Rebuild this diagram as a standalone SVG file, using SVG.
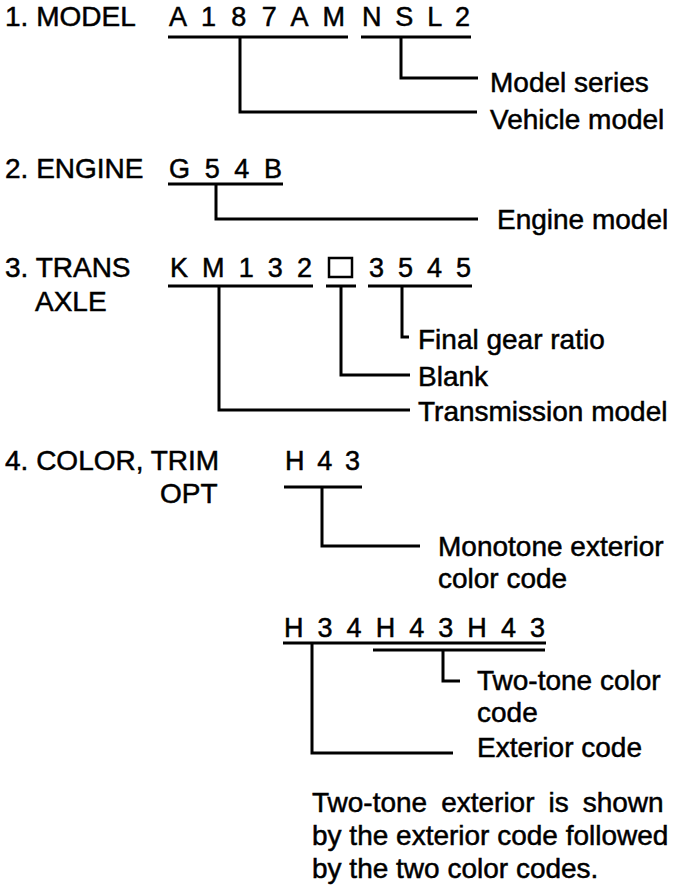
<svg xmlns="http://www.w3.org/2000/svg" width="688" height="886" viewBox="0 0 688 886">
<style>
text{font-family:"Liberation Sans",Arial,sans-serif;font-size:28px;fill:#000;stroke:#000;stroke-width:0.5}
.code{font-size:27px}
.ln{fill:none;stroke:#000;stroke-width:3}
.ul{stroke:#000;stroke-width:3}
</style>
<rect width="688" height="886" fill="#fff"/>
<g id="model">
<text x="5" y="26">1. MODEL</text>
<text class="code" x="169" y="26" textLength="176" lengthAdjust="spacing">A 1 8 7 A M</text>
<text class="code" x="362" y="26" textLength="108" lengthAdjust="spacing">N S L 2</text>
<text x="490" y="92">Model series</text>
<text x="490" y="129">Vehicle model</text>
</g>
<g id="engine">
<text x="5" y="178">2. ENGINE</text>
<text class="code" x="169" y="178" textLength="113" lengthAdjust="spacing">G 5 4 B</text>
<text x="497" y="229">Engine model</text>
</g>
<g id="transaxle">
<text x="5" y="277">3. TRANS</text>
<text x="35" y="311">AXLE</text>
<text class="code" x="170" y="277" textLength="142" lengthAdjust="spacing">K M 1 3 2</text>
<rect x="329" y="258" width="23" height="19" fill="none" stroke="#000" stroke-width="2.5"/>
<text class="code" x="369" y="277" textLength="102" lengthAdjust="spacing">3 5 4 5</text>
<text x="418" y="349">Final gear ratio</text>
<text x="418" y="386">Blank</text>
<text x="418" y="421">Transmission model</text>
</g>
<g id="color">
<text x="5" y="470">4. COLOR, TRIM</text>
<text x="160" y="503">OPT</text>
<text class="code" x="285" y="470" textLength="75" lengthAdjust="spacing">H 4 3</text>
<text x="438" y="556">Monotone exterior</text>
<text x="438" y="588">color code</text>
<text class="code" x="284" y="637" textLength="261" lengthAdjust="spacing">H 3 4 H 4 3 H 4 3</text>
<text x="477" y="690">Two-tone color</text>
<text x="477" y="722">code</text>
<text x="477" y="757">Exterior code</text>
</g>
<g id="note">
<text x="312" y="812" word-spacing="6.2">Two-tone exterior is shown</text>
<text x="312" y="845">by the exterior code followed</text>
<text x="312" y="878">by the two color codes.</text>
</g>
<g id="connectors">
<line class="ul" x1="168" y1="37" x2="348" y2="37"/>
<line class="ul" x1="361" y1="37" x2="471" y2="37"/>
<polyline class="ln" points="240,37 240,112 477,112"/>
<polyline class="ln" points="401,37 401,78 478,78"/>
<line class="ul" x1="168" y1="184" x2="283" y2="184"/>
<polyline class="ln" points="216,184 216,219 478,219"/>
<line class="ul" x1="168" y1="286" x2="313" y2="286"/>
<line class="ul" x1="326" y1="286" x2="356" y2="286"/>
<line class="ul" x1="368" y1="286" x2="472" y2="286"/>
<polyline class="ln" points="219,286 219,410 410,410"/>
<polyline class="ln" points="341,286 341,375 410,375"/>
<polyline class="ln" points="402,286 402,337 409,337"/>
<line class="ul" x1="284" y1="487" x2="362" y2="487"/>
<polyline class="ln" points="322,487 322,546 420,546"/>
<line class="ul" x1="283" y1="643" x2="546" y2="643"/>
<line class="ul" x1="373" y1="650" x2="545" y2="650"/>
<polyline class="ln" points="312,643 312,753 453,753"/>
<polyline class="ln" points="443,650 443,681 460,681"/>
</g>
</svg>
